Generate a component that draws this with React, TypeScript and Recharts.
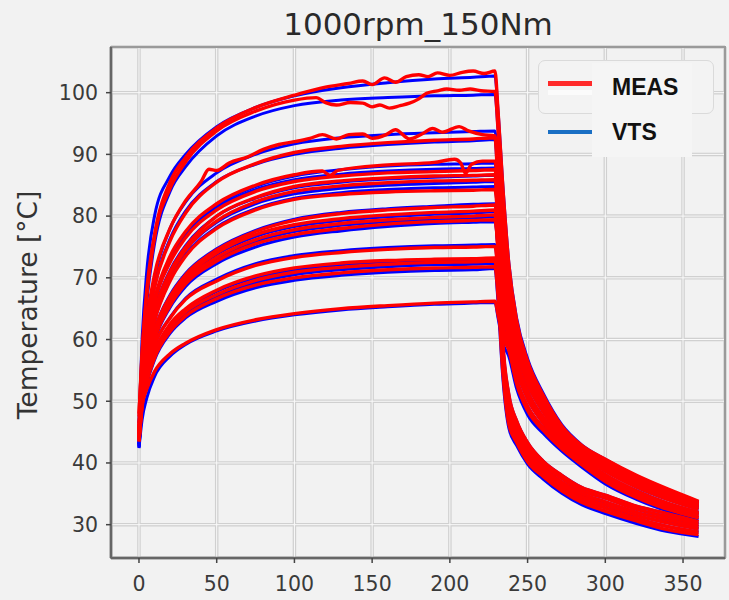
import { LineChart, Line, XAxis, YAxis, CartesianGrid, ReferenceArea } from 'recharts'

// shared time grids (heating phase, cooling phase)
const tHeat = [0, 2, 5, 10, 20, 30, 50, 75, 100, 130, 160, 190, 215, 229]
const tCool = [231, 234, 238, 243, 250, 260, 272, 285, 300, 320, 340, 360]
const xTicks = [0, 50, 100, 150, 200, 250, 300, 350]
const yTicks = [30, 40, 50, 60, 70, 80, 90, 100]

// wiggly measured curves have their own time points
const c1MeasT = [0, 2, 5, 10, 20, 30, 50, 75, 100, 120, 135, 144, 150, 158, 165, 172, 180, 186, 192, 200, 208, 215, 222, 229]
const c1Meas = [48, 58, 68, 77, 85.5, 89.5, 94.3, 97.6, 99.6, 100.9, 101.5, 101.9, 101.3, 102.4, 101.7, 102.6, 102.9, 102.6, 103.2, 102.8, 103.3, 103.5, 103.1, 103.5]
const c1Vts = [46.5, 60, 71, 80, 86.5, 90, 94.5, 97.6, 99.5, 100.8, 101.6, 102.2, 102.5, 102.7]
const c1Cool = [97, 85, 72, 63, 56.5, 51, 46, 42.8, 40.6, 38, 35.8, 33.8]
const c1VtsCool = [97, 85.3, 72.3, 63.4, 56.9, 51.3, 46.2, 42.9, 40.6, 37.9, 35.7, 33.7]

const c2MeasT = [0, 2, 5, 10, 20, 30, 50, 75, 100, 114, 120, 127, 136, 144, 150, 155, 161, 168, 174, 180, 185, 192, 198, 206, 213, 220, 229]
const c2Meas = [47.5, 57.5, 67, 76.5, 84.5, 88.8, 93.8, 97, 98.8, 99.2, 98.4, 98, 98.4, 98.3, 97.7, 98, 97.5, 97.9, 98.3, 99, 99.9, 100.3, 100.6, 100.4, 100.6, 100.3, 100.2]
const c2Vts = [46, 56, 66, 75.5, 84, 88, 93, 96.2, 97.9, 98.8, 99.2, 99.5, 99.6, 99.7]
const c2Cool = [94, 82, 70.5, 62.3, 56, 50.6, 45.7, 42.6, 40.3, 37.7, 35.6, 33.6]

const c3MeasT = [0, 2, 5, 10, 20, 30, 40, 45, 50, 58, 70, 80, 90, 101, 110, 118, 127, 135, 144, 150, 159, 165, 174, 182, 189, 195, 206, 212, 221, 229]
const c3Meas = [46.5, 55, 63, 70.5, 78, 82.5, 85.6, 87.6, 87.4, 88.6, 89.6, 90.8, 91.6, 92.1, 92.6, 93.2, 92.5, 93.2, 93.3, 92.6, 93.2, 94, 92.5, 93.3, 94.2, 93.6, 94.5, 93.8, 93.2, 93]
const c3Vts = [45, 54.5, 62.5, 70, 78, 82.3, 87, 90, 91.7, 92.7, 93.2, 93.5, 93.7, 93.8]
const c3Cool = [88, 78, 68.5, 61.3, 55.3, 50.1, 45.4, 42.3, 40, 37.4, 35.3, 33.4]

const c4Meas = [45.5, 54, 61.5, 68.5, 76, 80.5, 85.5, 88.5, 90.3, 91.3, 91.9, 92.3, 92.5, 92.7]
const c4Vts = [44, 53.5, 61, 68.5, 76.3, 80.8, 85.6, 88.4, 90, 91, 91.6, 92, 92.2, 92.4]
const c4Cool = [84, 60, 51, 46.8, 43.3, 40.3, 38, 36, 34.8, 33, 31.8, 30.5]

const c5MeasT = [0, 2, 5, 10, 20, 30, 50, 75, 100, 118, 123, 128, 160, 190, 203, 207, 210, 214, 221, 229]
const c5Meas = [45.5, 53.5, 60, 66.5, 73.5, 77.5, 82, 85, 86.7, 87.3, 86.6, 87.4, 88.3, 88.7, 89.2, 88.6, 86.9, 88.4, 88.9, 88.9]
const c5Vts = [44.5, 53, 59.5, 66, 73, 77, 81.7, 84.8, 86.5, 87.5, 88.1, 88.4, 88.5, 88.6]
const c5Cool = [84, 75, 67, 60.5, 54.6, 49.6, 45.1, 42, 39.6, 37, 35, 33.2]

const c6Meas = [45, 53, 59.5, 66, 72.5, 76.5, 81, 84, 85.6, 86.5, 87, 87.2, 87.4, 87.5]
const c6Vts = [44, 52.5, 59.3, 66, 72.8, 76.8, 81.3, 84.3, 85.9, 86.8, 87.3, 87.6, 87.7, 87.8]
const c6Cool = [82.5, 73.5, 66, 59.8, 54, 49.1, 44.8, 41.7, 39.3, 36.7, 34.7, 33]

const c7Meas = [45, 52.5, 58.5, 64.5, 71, 75, 80, 83, 84.8, 85.7, 86.2, 86.5, 86.6, 86.7]
const c7Vts = [43.5, 52, 58.3, 64.5, 71.2, 75.2, 80, 82.9, 84.6, 85.5, 86, 86.3, 86.5, 86.6]
const c7Cool = [81.5, 72.5, 65, 59, 53.4, 48.7, 44.5, 41.4, 39, 36.4, 34.4, 32.8]

const c8Meas = [45, 52, 58, 64, 70.5, 74.5, 79.2, 82.3, 84, 84.9, 85.4, 85.7, 85.8, 85.9]
const c8Vts = [43.5, 51.5, 57.7, 63.8, 70.4, 74.4, 79, 82, 83.6, 84.5, 85, 85.3, 85.5, 85.6]
const c8Cool = [79, 59, 50.1, 46.1, 42.7, 39.8, 37.5, 35.5, 34.3, 32.5, 31.3, 30.1]

const c9Meas = [44.5, 51.5, 57.5, 63, 69.5, 73.5, 78, 81, 82.7, 83.5, 83.9, 84.1, 84.2, 84.3]
const c9Vts = [43.5, 51, 57.2, 63, 69.7, 73.7, 78.2, 81.2, 82.9, 83.8, 84.3, 84.6, 84.7, 84.8]
const c9Cool = [79.5, 71, 64, 58.2, 52.8, 48.3, 44.2, 41.2, 38.7, 36.1, 34.1, 32.5]

const c10Meas = [44.5, 51.5, 56.5, 61.5, 67, 70.5, 74.5, 77.5, 79.3, 80.4, 81, 81.4, 81.6, 81.8]
const c10Vts = [43, 51, 56.3, 61.5, 67.2, 70.7, 74.7, 77.7, 79.5, 80.6, 81.2, 81.6, 81.9, 82]
const c10Cool = [77, 58, 49.3, 45.4, 42, 39.2, 36.9, 35, 33.7, 32, 30.8, 29.7]

const c11Meas = [44.5, 51, 56, 61, 66.5, 70, 74, 77, 78.6, 79.6, 80.2, 80.6, 80.8, 81]
const c11Vts = [43, 50.5, 55.8, 60.8, 66.4, 69.8, 73.8, 76.7, 78.3, 79.3, 79.9, 80.3, 80.5, 80.7]
const c11Cool = [76, 68.5, 62, 56.6, 51.6, 47.4, 43.6, 40.7, 38.1, 35.5, 33.5, 32]

const c12Meas = [44, 50.5, 55.5, 60.5, 66, 69.5, 73.3, 76.2, 77.8, 78.8, 79.4, 79.8, 80, 80.2]
const c12Vts = [43, 50, 55.2, 60.3, 65.8, 69.2, 73, 75.9, 77.5, 78.5, 79.1, 79.5, 79.7, 79.9]
const c12Cool = [74, 57, 48.2, 44.6, 41.3, 38.7, 36.4, 34.5, 33.2, 31.5, 30.3, 29.3]

const c13Meas = [44, 50.5, 55, 60, 65.5, 69, 72.7, 75.5, 77, 78, 78.7, 79.1, 79.3, 79.4]
const c13Vts = [42.8, 50, 54.8, 59.8, 65.2, 68.6, 72.3, 75, 76.6, 77.6, 78.3, 78.8, 79, 79.1]
const c13Cool = [75, 67.5, 61, 55.8, 51, 47, 43.3, 40.5, 37.9, 35.3, 33.3, 31.8]

const c14Meas = [44, 50, 54.5, 59, 63.5, 66.5, 69.5, 72, 73.3, 74.1, 74.6, 74.9, 75, 75.1]
const c14Vts = [43, 49.5, 54.3, 58.9, 63.6, 66.7, 69.8, 72.3, 73.6, 74.4, 74.9, 75.2, 75.3, 75.4]
const c14Cool = [71, 65, 60, 55, 50.4, 46.5, 43, 40.2, 37.6, 35, 33, 31.6]

const c15Meas = [43.5, 49.5, 54, 58, 62.5, 65, 68, 70.3, 71.6, 72.4, 72.8, 73, 73.1, 73.2]
const c15Vts = [42.7, 49, 53.7, 57.8, 62.3, 64.8, 67.8, 70, 71.3, 72.1, 72.6, 72.8, 72.9, 73]
const c15Cool = [70, 56, 47.2, 44, 40.8, 38.2, 35.9, 34, 32.7, 31, 29.7, 28.8]

const c16Meas = [43.5, 49.5, 53.5, 57.5, 62, 64.5, 67.3, 69.6, 70.9, 71.7, 72.2, 72.5, 72.6, 72.7]
const c16Vts = [42.6, 49, 53.2, 57.2, 61.7, 64.2, 67, 69.2, 70.5, 71.3, 71.8, 72.1, 72.2, 72.3]
const c16Cool = [68.5, 62.5, 58.7, 53.5, 49.2, 45.7, 42.5, 39.8, 37.2, 34.6, 32.6, 31.2]

const c17Meas = [43.5, 49, 53, 57, 61.3, 63.8, 66.6, 68.8, 70, 70.8, 71.3, 71.6, 71.7, 71.8]
const c17Vts = [42.5, 48.5, 52.7, 56.7, 61, 63.5, 66.2, 68.4, 69.6, 70.4, 70.9, 71.2, 71.3, 71.5]
const c17Cool = [67, 55, 46.2, 43.3, 40.2, 37.8, 35.5, 33.6, 32.2, 30.6, 29.2, 28.4]
const c17VtsCool = [66, 54, 45.6, 42.8, 39.8, 37.4, 35.1, 33.2, 31.8, 30.2, 28.9, 28.1]

const c18Meas = [46, 49.5, 52, 54.8, 57.7, 59.4, 61.6, 63.2, 64.2, 65, 65.5, 65.9, 66.1, 66.2]
const c18Vts = [42.4, 47, 50.5, 54, 57.3, 59.2, 61.4, 63, 64, 64.8, 65.3, 65.7, 65.9, 66]
const c18Cool = [64, 60.5, 58.2, 52.8, 48.5, 45.3, 42.3, 39.7, 37, 34.4, 32.5, 31.1]
const c18VtsCool = [63.5, 59.5, 57.2, 52, 47.8, 44.8, 41.9, 39.3, 36.6, 34.1, 32.2, 30.8]

interface Curve {
  measT?: number[]
  meas: number[]
  vts: number[]
  cool: number[]
  vtsCool?: number[]
}

const curves: Curve[] = [
  { measT: c1MeasT, meas: c1Meas, vts: c1Vts, cool: c1Cool, vtsCool: c1VtsCool },
  { measT: c2MeasT, meas: c2Meas, vts: c2Vts, cool: c2Cool },
  { measT: c3MeasT, meas: c3Meas, vts: c3Vts, cool: c3Cool },
  { meas: c4Meas, vts: c4Vts, cool: c4Cool },
  { measT: c5MeasT, meas: c5Meas, vts: c5Vts, cool: c5Cool },
  { meas: c6Meas, vts: c6Vts, cool: c6Cool },
  { meas: c7Meas, vts: c7Vts, cool: c7Cool },
  { meas: c8Meas, vts: c8Vts, cool: c8Cool },
  { meas: c9Meas, vts: c9Vts, cool: c9Cool },
  { meas: c10Meas, vts: c10Vts, cool: c10Cool },
  { meas: c11Meas, vts: c11Vts, cool: c11Cool },
  { meas: c12Meas, vts: c12Vts, cool: c12Cool },
  { meas: c13Meas, vts: c13Vts, cool: c13Cool },
  { meas: c14Meas, vts: c14Vts, cool: c14Cool },
  { meas: c15Meas, vts: c15Vts, cool: c15Cool },
  { meas: c16Meas, vts: c16Vts, cool: c16Cool },
  { meas: c17Meas, vts: c17Vts, cool: c17Cool, vtsCool: c17VtsCool },
  { meas: c18Meas, vts: c18Vts, cool: c18Cool, vtsCool: c18VtsCool },
]

const pts = (t: number[], v: number[]) => t.map((x, i) => ({ t: x, v: v[i] }))

const vtsLines = curves.map((c) => pts([...tHeat, ...tCool], [...c.vts, ...(c.vtsCool ?? c.cool)]))
const measLines = curves.map((c) => pts([...(c.measT ?? tHeat), ...tCool], [...c.meas, ...c.cool]))

const font = '"DejaVu Sans", sans-serif'
const tickStyle = { fontFamily: font, fontSize: 20.5, fill: '#3a3a3a' }

export default function App() {
  return (
    <div style={{ position: 'absolute', left: 0, top: 0, width: 729, height: 600, background: '#f2f2f2', overflow: 'hidden' }}>
      <LineChart width={729} height={600} margin={{ top: 47, right: 4, bottom: 0, left: 0 }}>
        <CartesianGrid stroke="#d0d0d0" strokeWidth={3.5} />
        <CartesianGrid stroke="#fafafa" strokeWidth={1} />
        <ReferenceArea x1={-18} x2={377} y1={24.6} y2={107.4} fill="#f2f2f2" fillOpacity={0} stroke="#9a9a9a" strokeWidth={2} />
        <XAxis
          type="number"
          dataKey="t"
          domain={[-18, 377]}
          ticks={xTicks}
          allowDataOverflow
          height={42}
          tick={tickStyle}
          tickSize={5}
          tickMargin={13}
          axisLine={{ stroke: '#666', strokeWidth: 2.5 }}
          tickLine={{ stroke: '#444', strokeWidth: 1.5 }}
        />
        <YAxis
          type="number"
          domain={[24.6, 107.4]}
          ticks={yTicks}
          allowDataOverflow
          width={111}
          tick={tickStyle}
          tickSize={5}
          tickMargin={8}
          axisLine={{ stroke: '#666', strokeWidth: 2.5 }}
          tickLine={{ stroke: '#444', strokeWidth: 1.5 }}
        />
        {vtsLines.map((d, i) => (
          <Line key={'v' + i} data={d} dataKey="v" type="monotone" stroke="#0000ff" strokeWidth={3} dot={false} isAnimationActive={false} />
        ))}
        {measLines.map((d, i) => (
          <Line key={'m' + i} data={d} dataKey="v" type="monotone" stroke="#ff0000" strokeWidth={3.4} dot={false} isAnimationActive={false} />
        ))}
      </LineChart>

      <div style={{ position: 'absolute', left: 0, width: 836, top: 6, textAlign: 'center', fontFamily: font, fontSize: 31, color: '#2a2a2a', lineHeight: '36px' }}>
        1000rpm_150Nm
      </div>
      <div
        style={{
          position: 'absolute', left: 27, top: 305, transform: 'translate(-50%, -50%) rotate(-90deg)',
          fontFamily: font, fontSize: 26.5, color: '#333', whiteSpace: 'nowrap',
        }}
      >
        Temperature [°C]
      </div>

      {/* legend */}
      <div style={{ position: 'absolute', left: 538, top: 60, width: 174, height: 52, border: '1.5px solid #dadada', borderRadius: 7, background: '#f3f3f3' }} />
      <div style={{ position: 'absolute', left: 592, top: 63, width: 100, height: 94, background: '#f5f5f5' }} />
      <div style={{ position: 'absolute', left: 548, top: 81, width: 44, height: 5, background: '#ff2a2a' }} />
      <div style={{ position: 'absolute', left: 548, top: 90, width: 44, height: 5, background: '#fbfbfb' }} />
      <div style={{ position: 'absolute', left: 548, top: 130, width: 44, height: 3.5, background: '#1a6fc4' }} />
      <div style={{ position: 'absolute', left: 612, top: 73, fontFamily: '"Liberation Sans", Arial, sans-serif', fontWeight: 'bold', fontSize: 23, color: '#111', lineHeight: '28px' }}>
        MEAS
      </div>
      <div style={{ position: 'absolute', left: 612, top: 118, fontFamily: '"Liberation Sans", Arial, sans-serif', fontWeight: 'bold', fontSize: 23, color: '#111', lineHeight: '28px' }}>
        VTS
      </div>
    </div>
  )
}
